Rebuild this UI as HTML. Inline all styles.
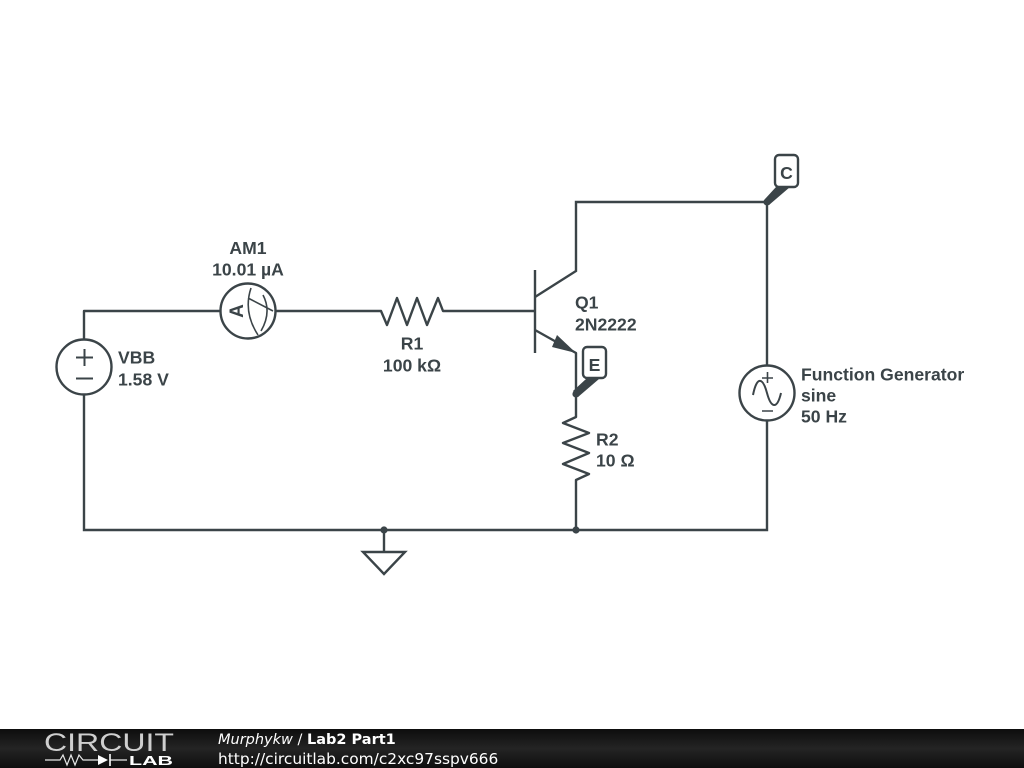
<!DOCTYPE html>
<html>
<head>
<meta charset="utf-8">
<style>
html,body{margin:0;padding:0;background:#fff;width:1024px;height:768px;overflow:hidden}
svg{position:absolute;left:0;top:0}
.l{font:bold 17.6px "Liberation Sans",sans-serif;fill:#3b4448}
.f{font-family:"DejaVu Sans",sans-serif;fill:#fff;font-size:15.4px}
</style>
</head>
<body>
<svg width="1024" height="768" viewBox="0 0 1024 768" xmlns="http://www.w3.org/2000/svg">
<g fill="none" stroke="#3b4448" stroke-width="2.4" stroke-linejoin="miter">
  <!-- wires -->
  <path d="M84 339V311H220M276 311H381L387 325L397 298L407 325L417 298L427 325L438 298L443 311H535" stroke-linejoin="round"/>
  <path d="M84 395V530H767V421M767 365V202H576V271L535 297"/>
  <path d="M535 270V353M535 330L576 353V417L563 423L589 433L563 443L589 453L563 464L589 474L576 480V530" stroke-linejoin="round"/>
  <!-- ground -->
  <path d="M384 530V552"/>
  <path d="M363 552H405L384 574Z"/>
  <!-- VBB -->
  <circle cx="84" cy="367" r="27.5"/>
  <path d="M84.5 349V366M76 357.5H93M76 378.5H93" stroke-width="2"/>
  <!-- Ammeter -->
  <circle cx="248" cy="311" r="27.5"/>
  <path d="M251 288Q243 312 258 335M263 295Q272 312 261 331M248 298L273 311" stroke-width="1.6"/>
  <!-- Function generator -->
  <circle cx="767" cy="393" r="27.5"/>
  <path d="M767.500 372V383M762 378H773M762 411H773" stroke-width="1.6"/>
  <path d="M753 395C757 375 763 378 767 393C771 408 777 410 781 393" stroke-width="2"/>
  <!-- tags -->
  <rect x="775" y="155" width="23" height="32" rx="4"/>
  <rect x="583" y="347" width="23" height="31" rx="4"/>
</g>
<g fill="#3b4448" stroke="none">
  <path d="M557 335L576 353L552 347Z"/>
  <path d="M765 199L776 187H790L769 205Z"/>
  <path d="M573 391L586 379H599L578 397Z"/>
  <circle cx="767" cy="202" r="3.6"/>
  <circle cx="576" cy="394" r="3.6"/>
  <circle cx="384" cy="530" r="3.6"/>
  <circle cx="576" cy="530" r="3.6"/>
</g>
<g class="l">
  <text class="l" x="248" y="254" text-anchor="middle">AM1</text>
  <text class="l" x="248" y="275.500" text-anchor="middle">10.01 µA</text>
  <text class="l" x="412" y="349.500" text-anchor="middle">R1</text>
  <text class="l" x="412" y="371.500" text-anchor="middle">100 kΩ</text>
  <text class="l" x="118" y="363.500">VBB</text>
  <text class="l" x="118" y="385.500">1.58 V</text>
  <text class="l" x="575" y="308.500">Q1</text>
  <text class="l" x="575" y="330.500">2N2222</text>
  <text class="l" x="596" y="445.500">R2</text>
  <text class="l" x="596" y="466.500">10 Ω</text>
  <text class="l" x="801" y="380.500">Function Generator</text>
  <text class="l" x="801" y="401.500">sine</text>
  <text class="l" x="801" y="422.500">50 Hz</text>
  <text class="l" x="786.500" y="179" text-anchor="middle">C</text>
  <text class="l" x="594.500" y="371" text-anchor="middle">E</text>
  <text class="l" transform="translate(243 311) rotate(-90)" text-anchor="middle" style="font-size:19px">A</text>
</g>
<!-- footer -->
<defs>
  <linearGradient id="bar" x1="0" y1="0" x2="0" y2="1">
    <stop offset="0" stop-color="#0d0d0d"/>
    <stop offset="0.5" stop-color="#242424"/>
    <stop offset="1" stop-color="#0e0e0e"/>
  </linearGradient>
</defs>
<rect x="0" y="729" width="1024" height="39" fill="url(#bar)"/>
<text x="44" y="751" style="font:25px 'Liberation Sans',sans-serif" fill="#cfcfcf" textLength="130" lengthAdjust="spacingAndGlyphs">CIRCUIT</text>
<path d="M45 760H60L63 755L67 765L71 755L75 765L79 755L83 760H98M110 760H127" fill="none" stroke="#e8e8e8" stroke-width="1.2"/>
<path d="M98 755L108 760L98 765Z" fill="#fff"/>
<path d="M110 754V766" stroke="#fff" stroke-width="1.6"/>
<text x="129" y="765" style="font:bold 13px 'Liberation Sans',sans-serif" fill="#fff" textLength="44" lengthAdjust="spacingAndGlyphs">LAB</text>
<text class="f" x="218" y="744" style="font-size:14.5px"><tspan font-style="italic">Murphykw</tspan> / <tspan font-weight="bold">Lab2 Part1</tspan></text>
<text class="f" x="218" y="764">http://circuitlab.com/c2xc97sspv666</text>
</svg>
</body>
</html>
